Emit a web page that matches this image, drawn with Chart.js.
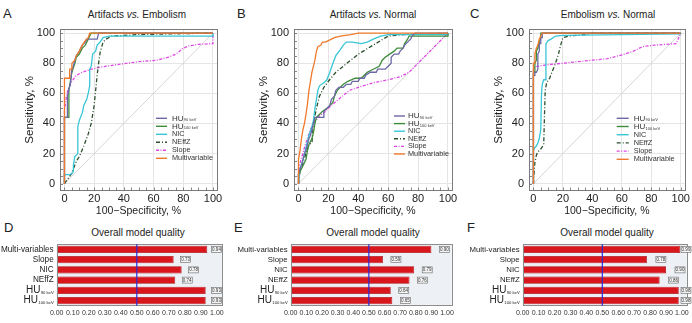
<!DOCTYPE html>
<html><head><meta charset="utf-8">
<script src="https://cdn.jsdelivr.net/npm/chart.js@4/dist/chart.umd.min.js"></script>
<style>
html,body{margin:0;padding:0;background:#fff}
body{width:692px;height:323px;position:relative;overflow:hidden;font-family:"Liberation Sans",Arial,Helvetica,sans-serif;color:#222}
canvas{position:absolute}
.let{position:absolute;font-size:13px;line-height:13px;color:#222}
.ttl{position:absolute;width:220px;text-align:center;font-size:10px;line-height:12px;color:#222}
</style></head><body>
<div class="let" style="left:3px;top:7px">A</div>
<div class="let" style="left:237px;top:7px">B</div>
<div class="let" style="left:470px;top:7px">C</div>
<div class="let" style="left:4px;top:221px">D</div>
<div class="let" style="left:234px;top:221px">E</div>
<div class="let" style="left:467px;top:221px">F</div>
<div class="ttl" style="left:27px;top:9px">Artifacts <i>vs.</i> Embolism</div>
<div class="ttl" style="left:263px;top:9px">Artifacts <i>vs.</i> Normal</div>
<div class="ttl" style="left:498px;top:9px">Embolism <i>vs.</i> Normal</div>
<div class="ttl" style="left:28px;top:227px">Overall model quality</div>
<div class="ttl" style="left:263px;top:227px">Overall model quality</div>
<div class="ttl" style="left:497px;top:227px">Overall model quality</div>
<canvas id="cA" width="230" height="220" style="left:0;top:0"></canvas>
<canvas id="cB" width="230" height="220" style="left:234px;top:0"></canvas>
<canvas id="cC" width="223" height="220" style="left:469px;top:0"></canvas>
<canvas id="cD" width="230" height="83" style="left:0;top:240px"></canvas>
<canvas id="cE" width="230" height="83" style="left:234px;top:240px"></canvas>
<canvas id="cF" width="226" height="83" style="left:466px;top:240px"></canvas>
<script>
// ---------- DATA ----------
const legendMain = ['HU','HU','NIC','NEffZ','Slope','Multivariable'];
const legendSub  = ['90 keV','100 keV','','','',''];
const rocTicks = [0,20,40,60,80,100];

// Panel A: Artifacts vs. Embolism  ([100-specificity, sensitivity])
const A_HU90  = [[0,0],[0,44],[2,44],[2,58],[3,63],[4,66],[5,76],[6,78],[7,82],[8,85],[10,88],[12,92],[14,94],[15,96],[22,96],[23,100],[100,100]];
const A_HU100 = [[0,0],[0,44],[3,44],[3,62],[5,74],[7,80],[8,84],[10,86],[11,88],[12,90],[14,92],[16,96],[17,98],[18,100],[100,100]];
const A_NIC   = [[0,0],[0,6],[4,6],[6,8],[6,12],[7,18],[9,20],[9,38],[10,42],[12,47],[13,52],[15,56],[16,60],[17,65],[17,76],[18,78],[19,86],[20,87],[21,88],[22,92],[24,94],[26,97],[30,98],[50,98],[100,98],[100,100]];
const A_NEFFZ = [[0,0],[5,7],[8,15],[10,18],[13,25],[16,33],[18,40],[20,52],[21,62],[22,72],[23,80],[24,87],[26,94],[28,96],[32,98],[50,99],[100,100]];
const A_SLOPE = [[0,0],[0,48],[1,56],[2,61],[3,64],[5,68],[8,72],[12,74],[18,76],[25,77.5],[35,79],[50,81],[62,82],[70,84],[75,86],[80,90],[84,91.5],[90,92.5],[100,93],[100,100]];
const A_MULTI = [[0,0],[0,70],[3.5,70],[3.5,76],[5,76],[5,80],[7,82],[8,85],[10,88],[12,92],[14,95],[16,97],[17,100],[100,100]];

// Panel B: Artifacts vs. Normal
const B_HU90  = [[0,0],[0,6],[1,10],[2,12],[3,16],[4,20],[5,22],[6,26],[7,30],[8,32],[9,36],[10,40],[11,44],[17,44],[17,48],[19,50],[21,52],[22,56],[24,58],[25,62],[27,64],[30,64],[32,66],[35,66],[36,68],[40,68],[41,70],[44,70],[45,72],[48,74],[52,74],[53,76],[58,76],[60,78],[62,80],[62,84],[64,86],[67,86],[68,88],[70,90],[71,92],[73,94],[75,96],[76,98],[78,100],[100,100]];
const B_HU100 = [[0,0],[0,6],[1,8],[2,10],[3,12],[5,16],[6,22],[7,26],[9,30],[10,34],[11,40],[12,44],[14,46],[16,48],[19,50],[21,52],[23,54],[24,58],[26,62],[28,64],[30,66],[33,68],[38,70],[42,70],[44,72],[46,74],[50,76],[54,78],[56,82],[58,84],[61,86],[64,88],[66,90],[70,90],[71,93],[73,96],[74,98],[100,98],[100,100]];
const B_NIC   = [[0,0],[1,10],[3,16],[5,24],[7,32],[9,38],[10,42],[11,50],[12,56],[13,62],[14,65],[17,67],[19,69],[21,74],[23,80],[25,85],[28,89],[30,92],[32,94],[36,94],[42,93],[46,94],[50,96],[55,98],[60,99],[100,99],[100,100]];
const B_NEFFZ = [[0,0],[1,8],[3,14],[5,20],[7,26],[9,27],[10,40],[12,50],[14,58],[17,64],[20,68],[25,74],[30,78],[35,82],[40,86],[45,89],[50,92],[55,95],[60,98],[70,99],[100,100]];
const B_SLOPE = [[0,0],[0,10],[2,17],[4,24],[6,30],[8,36],[10,40],[14,45],[18,48],[22,52],[28,57],[34,62],[40,64],[50,67],[60,69],[68,71],[74,74],[80,80],[86,86],[92,92],[97,97],[100,100]];
const B_MULTI = [[0,0],[0,16],[1,22],[2,30],[3,36],[4,40],[5,46],[6,53],[7,62],[8,68],[9,74],[10,78],[11,82],[12,88],[13,91],[15,92],[16,94],[18,94],[20,95],[24,97],[28,98],[35,99],[40,100],[100,100]];

// Panel C: Embolism vs. Normal
const C_HU90  = [[0,0],[0,72],[1,72],[1,74],[2,74],[3,76],[3,86],[4,88],[4,93],[5,93],[5,97],[6,97],[6,100],[100,100]];
const C_HU100 = [[0,0],[0,74],[1,74],[1,80],[2,82],[2,88],[3,90],[4,94],[5,97],[5,100],[100,100]];
const C_NIC   = [[0,0],[0,22],[1,24],[2,25],[3,27],[4,30],[5,36],[5.5,60],[6,66],[7,69],[8,69],[8.5,93],[10,95],[12,96],[15,98],[20,98.5],[60,99],[100,99.5],[100,100]];
const C_NEFFZ = [[0,0],[0.5,8],[1,14],[2,19],[3,21],[5,23],[7,26],[7.5,45],[8,62],[9,67],[11,70],[13,75],[15,80],[17,86],[18.5,92],[20,97],[24,98],[35,99],[40,100],[100,100]];
const C_SLOPE = [[0,0],[0,77],[3,78],[10,79],[20,80],[30,81],[40,82],[50,83],[58,85],[62,86],[68,88],[74,91],[82,92],[90,92.5],[97,93],[100,100]];
const C_MULTI = [[0,0],[0,80],[1,80],[1,86],[2,90],[3,92],[4,96],[5,98],[6,100],[100,100]];

// Bar panels: overall model quality (top to bottom)
const barMain = ['Multi-variables','Slope','NIC','NEffZ','HU','HU'];
const barSub  = ['','','','','90 keV','100 keV'];
const barTickValues = [0,0.1,0.2,0.3,0.4,0.5,0.6,0.7,0.8,0.9,1.0];
const qualityD = [0.94,0.73,0.78,0.74,0.93,0.93];
const qualityE = [0.90,0.59,0.79,0.76,0.64,0.65];
const qualityF = [0.99,0.78,0.90,0.86,0.98,0.98];
const refLine = 0.5;

// ---------- STYLES ----------
const FONT = '"Liberation Sans", Arial, sans-serif';
Chart.defaults.font.family = FONT;
Chart.defaults.color = '#222';
const rocStyles = [
  {color:'#6c68a6', dash:[]},
  {color:'#3d8c3a', dash:[]},
  {color:'#38c6d6', dash:[]},
  {color:'#2c4f2c', dash:[4,2,1,2]},
  {color:'#e046e6', dash:[3,1.5,1,1.5]},
  {color:'#f07a2c', dash:[]}
];

const frameTicksPlugin = {
  id:'frameTicks',
  beforeDatasetsDraw(chart){
    const {ctx, chartArea:ca, scales} = chart;
    ctx.save();
    ctx.strokeStyle='#666'; ctx.lineWidth=0.8;
    for(let v=0; v<=100; v+=5){
      const x = Math.round(scales.x.getPixelForValue(v))+0.5;
      ctx.beginPath(); ctx.moveTo(x, ca.bottom); ctx.lineTo(x, ca.bottom-3); ctx.stroke();
      const y = Math.round(scales.y.getPixelForValue(v))+0.5;
      ctx.beginPath(); ctx.moveTo(ca.left, y); ctx.lineTo(ca.left+3, y); ctx.stroke();
    }
    ctx.restore();
  },
  afterDatasetsDraw(chart){
    const {ctx, chartArea:ca} = chart;
    ctx.save(); ctx.strokeStyle='#7a7a7a'; ctx.lineWidth=1;
    ctx.strokeRect(Math.round(ca.left)+0.5, Math.round(ca.top)+0.5, Math.round(ca.right-ca.left), Math.round(ca.bottom-ca.top));
    ctx.restore();
  }
};

const rocLegendPlugin = {
  id:'rocLegend',
  afterDatasetsDraw(chart, args, o){
    const {ctx, chartArea:ca} = chart;
    const x0 = ca.right + o.dx, y0 = ca.top + o.dy;
    rocStyles.forEach((st,i)=>{
      const y = y0 + i*o.step;
      ctx.save();
      ctx.strokeStyle = st.color; ctx.lineWidth = 1.4; ctx.setLineDash(st.dash);
      ctx.beginPath(); ctx.moveTo(x0, y); ctx.lineTo(x0+o.len, y); ctx.stroke();
      ctx.restore();
      ctx.save();
      ctx.fillStyle = '#333'; ctx.textBaseline='middle'; ctx.textAlign='left';
      const tx = x0 + o.len + o.gap;
      if (legendSub[i]) {
        ctx.font = '8px ' + FONT;
        ctx.fillText(legendMain[i], tx, y);
        const w = ctx.measureText(legendMain[i]).width;
        ctx.font = '4px ' + FONT;
        ctx.fillText(legendSub[i], tx + w + 0.3, y + 2);
      } else {
        ctx.font = '7.3px ' + FONT;
        ctx.fillText(legendMain[i], tx, y);
      }
      ctx.restore();
    });
  }
};

function minorTicks(scale){
  const t=[]; for(let v=0; v<=100; v+=5) t.push({value:v}); scale.ticks=t;
}
function gridCol(c){ return (c.tick && rocTicks.includes(c.tick.value)) ? '#e5e5e5' : 'rgba(0,0,0,0)'; }

function rocChart(id, series, padRight, legendOpts){
  const order = [5,0,1,2,3,4];
  const datasets = order.map(i=>({
    data: series[i].map(p=>({x:p[0], y:p[1]})),
    showLine:true, borderColor:rocStyles[i].color, borderDash:rocStyles[i].dash,
    borderWidth:1.3, pointRadius:0, tension:0, fill:false
  }));
  datasets.push({data:[{x:0,y:0},{x:100,y:100}], showLine:true, borderColor:'#d6d6d6', borderWidth:1, pointRadius:0});
  new Chart(document.getElementById(id), {
    type:'scatter',
    data:{datasets},
    options:{
      responsive:false, animation:false, events:[],
      layout:{padding:{top:29.3, right:padRight, left:0, bottom:0}},
      plugins:{legend:{display:false}, tooltip:{enabled:false}, rocLegend:legendOpts},
      scales:{
        x:{type:'linear', min:-3, max:102.7, afterBuildTicks:minorTicks,
           ticks:{autoSkip:false, maxRotation:0, padding:2, font:{size:11}, color:'#222',
                  callback:(v)=> rocTicks.includes(v) ? String(v) : ''},
           grid:{color:gridCol, drawTicks:false, lineWidth:1}, border:{display:false},
           title:{display:true, text:'100\u2212Specificity, %', font:{size:10.5}, color:'#222', padding:{top:0,bottom:3}},
           afterFit:(s)=>{ s.height = 29.5; }},
        y:{type:'linear', min:-4.5, max:102.5, afterBuildTicks:minorTicks,
           ticks:{autoSkip:false, padding:5, font:{size:11}, color:'#222',
                  callback:(v)=> rocTicks.includes(v) ? String(v) : ''},
           grid:{color:gridCol, drawTicks:false, lineWidth:1}, border:{display:false},
           title:{display:true, text:'Sensitivity, %', font:{size:11.5}, color:'#222', padding:{top:23,bottom:0}},
           afterFit:(s)=>{ s.width = 60; }}
      }
    },
    plugins:[frameTicksPlugin, rocLegendPlugin]
  });
}

rocChart('cA', [A_HU90,A_HU100,A_NIC,A_NEFFZ,A_SLOPE,A_MULTI], 13, {dx:-61, dy:89, step:8, len:11, gap:5});
rocChart('cB', [B_HU90,B_HU100,B_NIC,B_NEFFZ,B_SLOPE,B_MULTI], 12, {dx:-58, dy:86.7, step:7.6, len:11, gap:3});
rocChart('cC', [C_HU90,C_HU100,C_NIC,C_NEFFZ,C_SLOPE,C_MULTI], 4, {dx:-68, dy:89, step:8.2, len:12, gap:5});

// ---------- BAR PANELS ----------
const barPlugin = {
  id:'barDeco',
  beforeDatasetsDraw(chart){
    const {ctx, chartArea:ca} = chart;
    ctx.save();
    ctx.fillStyle='#edf1f6';
    ctx.fillRect(ca.left, ca.top, ca.right-ca.left, ca.bottom-ca.top);
    ctx.restore();
  },
  afterDatasetsDraw(chart, args, o){
    const {ctx, chartArea:ca, scales} = chart;
    ctx.save();
    ctx.strokeStyle='#8c8c8c'; ctx.lineWidth=1;
    ctx.strokeRect(Math.round(ca.left)+0.5, Math.round(ca.top)+0.5, Math.round(ca.right-ca.left), Math.round(ca.bottom-ca.top));
    // reference line
    const xr = scales.x.getPixelForValue(refLine);
    ctx.strokeStyle='#2a2ad6'; ctx.lineWidth=1.2;
    ctx.beginPath(); ctx.moveTo(xr, ca.top); ctx.lineTo(xr, ca.bottom); ctx.stroke();
    // value boxes
    const vals = chart.data.datasets[0].data;
    vals.forEach((v,i)=>{
      const yc = scales.y.getPixelForValue(i);
      const xb = Math.min(scales.x.getPixelForValue(v) + o.gap, o.maxRight - 10);
      ctx.fillStyle='#f4f4f4'; ctx.strokeStyle='#666'; ctx.lineWidth=0.6;
      ctx.fillRect(xb, yc-3, 10, 6); ctx.strokeRect(xb, yc-3, 10, 6);
      ctx.fillStyle='#333'; ctx.font='4.5px '+FONT; ctx.textAlign='center'; ctx.textBaseline='middle';
      ctx.fillText(v.toFixed(2), xb+5, yc+0.3);
    });
    // category labels
    ctx.fillStyle='#222'; ctx.textBaseline='middle'; ctx.textAlign='right';
    barMain.forEach((m,i)=>{
      const yc = scales.y.getPixelForValue(i);
      const xr2 = ca.left - 3;
      if (barSub[i]) {
        ctx.font='4.2px '+FONT;
        const ws = ctx.measureText(barSub[i]).width;
        ctx.fillText(barSub[i], xr2, yc+2.5);
        ctx.font='10px '+FONT;
        ctx.fillText(m, xr2 - ws - 0.3, yc);
      } else {
        ctx.font=o.labelSize+'px '+FONT;
        ctx.fillText(m, xr2, yc);
      }
    });
    ctx.restore();
  }
};

function barChart(id, values, padRight, opts){
  new Chart(document.getElementById(id), {
    type:'bar',
    data:{labels:barMain.map((m,i)=>m+barSub[i]), datasets:[{data:values, backgroundColor:'#d9161c', borderColor:'#a80e12', borderWidth:0.8, barPercentage:0.72, categoryPercentage:1}]},
    options:{
      indexAxis:'y', responsive:false, animation:false, events:[],
      layout:{padding:{top:4.3, right:padRight, left:0, bottom:0}},
      plugins:{legend:{display:false}, tooltip:{enabled:false}, barDeco:opts},
      scales:{
        x:{type:'linear', min:0, max:1.03,
           afterBuildTicks:(s)=>{ s.ticks = barTickValues.map(v=>({value:v})); },
           ticks:{autoSkip:false, maxRotation:0, padding:3, font:{size:7}, color:'#333', callback:(v)=>Number(v).toFixed(2)},
           grid:{display:false, drawTicks:false}, border:{display:false},
           afterFit:(s)=>{ s.height = 17.3; }},
        y:{ticks:{display:false}, grid:{display:false, drawTicks:false}, border:{display:false},
           afterFit:(s)=>{ s.width = 56.7; }}
      }
    },
    plugins:[barPlugin]
  });
}
barChart('cD', qualityD, 8.3, {gap:7, labelSize:8.2, maxRight:221.5});
barChart('cE', qualityE, 12.3, {gap:8, labelSize:7.8, maxRight:217});
barChart('cF', qualityF, 5.3, {gap:9, labelSize:7.8, maxRight:225});
</script>
</body></html>
